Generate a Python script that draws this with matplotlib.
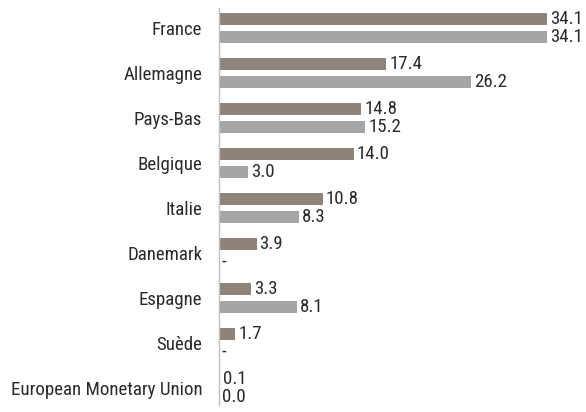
import matplotlib
matplotlib.use("Agg")
import matplotlib.pyplot as plt
import numpy as np

categories = ["France", "Allemagne", "Pays-Bas", "Belgique", "Italie",
              "Danemark", "Espagne", "Suède", "European Monetary Union"]
series_a = [34.1, 17.4, 14.8, 14.0, 10.8, 3.9, 3.3, 1.7, 0.1]
series_b = [34.1, 26.2, 15.2, 3.0, 8.3, None, 8.1, None, 0.0]

plt.rcParams['font.family'] = ['Roboto Condensed', 'Archivo Narrow', 'DejaVu Sans']

fig = plt.figure(figsize=(5.86, 4.12), dpi=100)
ax = fig.add_axes([219/586, 1-405/412, 1-219/586, (405-8)/412])

y = np.arange(len(categories))
h = 0.265
off = 0.2
ca = "#8f8278"
cb = "#a5a5a5"
va = [v if v is not None else 0 for v in series_a]
vb = [v if v is not None else 0 for v in series_b]
ax.barh(y - off, va, height=h, color=ca)
ax.barh(y + off, vb, height=h, color=cb)

fs = 13.6
tc = "#2a2a2a"
for i in range(len(categories)):
    a = series_a[i]
    b = series_b[i]
    ax.text((a if a else 0) + 0.3, y[i] - off, "-" if a is None else f"{a:.1f}",
            va="center", ha="left", fontsize=fs, color=tc)
    ax.text((b if b else 0) + 0.3, y[i] + off, "-" if b is None else f"{b:.1f}",
            va="center", ha="left", fontsize=fs, color=tc)

ax.set_xlim(0, 38.15)
ax.set_ylim(8.38, -0.445)
ax.set_yticks(y)
ax.set_yticklabels(categories, fontsize=fs, color=tc)
ax.tick_params(axis="y", length=0, pad=12)
ax.set_xticks([])
for s in ["top", "right", "bottom"]:
    ax.spines[s].set_visible(False)
ax.spines["left"].set_color("#c0c0c0")
ax.spines["left"].set_linewidth(1)

fig.savefig("out.png", dpi=100)
